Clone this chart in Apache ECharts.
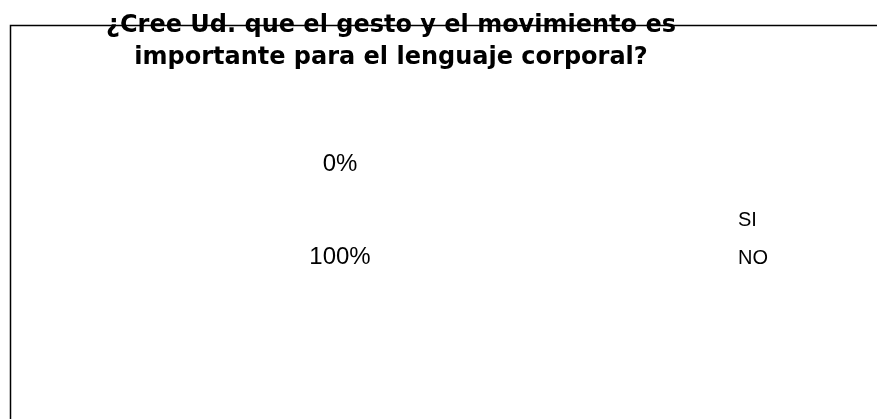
<!DOCTYPE html>
<html lang="es">
<head>
    <meta charset="UTF-8">
    <title>Gesto y movimiento</title>
    <script src="https://cdn.jsdelivr.net/npm/echarts@6.0.0/dist/echarts.min.js"></script>
    <style>
        html, body { margin: 0; padding: 0; background: #fff; }
    </style>
</head>
<body>
<div id="chart" style="width: 877px; height: 419px;"></div>

<script>
    // answer categories and their counts
    var answers = ['SI', 'NO'];
    var counts = [0, 100];

    var chart = echarts.init(document.getElementById('chart'));

    var pieData = answers.map(function (name, i) {
        return {name: name, value: counts[i]};
    });

    var option = {
        backgroundColor: '#ffffff',
        animation: false,
        title: {
            text: '¿Cree Ud. que el gesto y el movimiento es\nimportante para el lenguaje corporal?',
            left: 386,
            top: 5,
            textAlign: 'center',
            textStyle: {
                fontFamily: 'DejaVu Sans',
                fontSize: 24,
                fontWeight: 'bold',
                color: '#000',
                lineHeight: 32
            }
        },
        // frame of the chart area (only top and left edges are visible)
        graphic: [{
            type: 'rect',
            z: -1,
            shape: {x: 10.5, y: 25.5, width: 1000, height: 600},
            style: {fill: 'none', stroke: '#000', lineWidth: 1.5}
        }],
        legend: {
            orient: 'vertical',
            left: 728,
            top: 205,
            itemWidth: 0,
            itemHeight: 14,
            itemGap: 18,
            data: answers,
            textStyle: {fontFamily: 'Liberation Sans', fontSize: 20, color: '#000'}
        },
        series: [{
            type: 'pie',
            center: [340, 210.5],
            radius: [0, 87],
            startAngle: 90,
            clockwise: true,
            silent: true,
            data: pieData,
            itemStyle: {color: 'rgba(255,255,255,0)', borderWidth: 0},
            label: {
                show: true,
                position: 'inside',
                formatter: '{d}%',
                fontFamily: 'Liberation Sans',
                fontSize: 24,
                color: '#000'
            },
            labelLine: {show: false},
            emphasis: {disabled: true}
        }]
    };

    chart.setOption(option);
</script>
</body>
</html>
